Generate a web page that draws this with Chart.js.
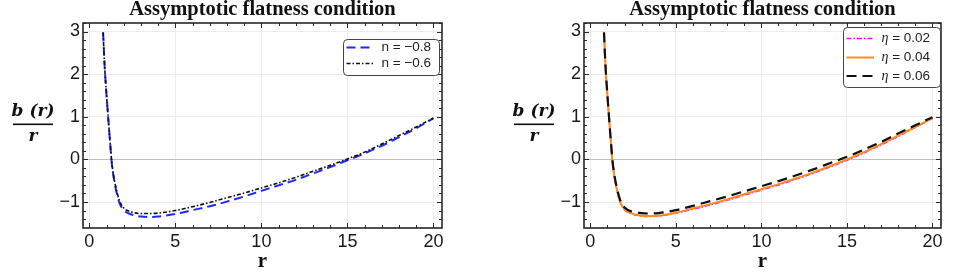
<!DOCTYPE html>
<html><head><meta charset="utf-8">
<script src="https://cdn.jsdelivr.net/npm/chart.js@4/dist/chart.umd.min.js"></script>
<style>
html,body{margin:0;padding:0;background:#fff;}
#wrap{position:relative;width:954px;height:273px;overflow:hidden;}
.panel{position:absolute;top:0;width:477px;height:273px;}
</style></head><body>
<div id="wrap">
<div class="panel" style="left:0"><canvas id="c1" width="477" height="273"></canvas></div>
<div class="panel" style="left:477px"><canvas id="c2" width="477" height="273"></canvas></div>
</div>
<script>
// ---- data ----
const chartTitle = 'Assymptotic flatness condition';
const xTicks = [0, 5, 10, 15, 20];
const yTicks = [-1, 0, 1, 2, 3];
const rValues = [0.8, 0.85, 0.9, 1.0, 1.1, 1.2, 1.3, 1.4, 1.5, 1.75, 2.0, 2.5, 3.0, 3.5, 4, 5, 6, 7, 8, 9, 10, 11, 12, 13, 14, 15, 16, 17, 18, 19, 20];
const nMinus08 = [2.98, 2.5, 2.1, 1.5, 0.95, 0.42, -0.08, -0.39, -0.62, -1.02, -1.19, -1.30, -1.34, -1.35, -1.34, -1.28, -1.19, -1.10, -0.99, -0.87, -0.74, -0.61, -0.48, -0.33, -0.18, -0.02, 0.14, 0.32, 0.52, 0.73, 0.96];
const nMinus06 = [2.98, 2.5, 2.1, 1.5, 0.95, 0.43, -0.06, -0.36, -0.58, -0.97, -1.14, -1.24, -1.27, -1.27, -1.26, -1.20, -1.11, -1.01, -0.90, -0.79, -0.67, -0.55, -0.42, -0.28, -0.14, 0.01, 0.17, 0.36, 0.56, 0.76, 0.97];
const eta002 = [2.98, 2.5, 2.1, 1.5, 0.95, 0.42, -0.08, -0.39, -0.62, -1.01, -1.18, -1.29, -1.33, -1.34, -1.33, -1.26, -1.17, -1.07, -0.96, -0.84, -0.72, -0.60, -0.47, -0.33, -0.18, -0.02, 0.15, 0.34, 0.54, 0.75, 0.96];
const eta004 = [2.98, 2.5, 2.1, 1.5, 0.95, 0.42, -0.07, -0.38, -0.61, -1.00, -1.17, -1.28, -1.32, -1.33, -1.32, -1.25, -1.15, -1.05, -0.94, -0.82, -0.70, -0.58, -0.45, -0.31, -0.16, 0.00, 0.17, 0.36, 0.56, 0.76, 0.97];
const eta006 = [2.98, 2.5, 2.1, 1.5, 0.95, 0.43, -0.05, -0.35, -0.57, -0.96, -1.13, -1.23, -1.26, -1.27, -1.26, -1.19, -1.09, -0.98, -0.87, -0.75, -0.63, -0.51, -0.38, -0.24, -0.09, 0.06, 0.23, 0.41, 0.61, 0.80, 0.99];

const toPts = ys => rValues.map((r, i) => ({x: r, y: ys[i]}));

// ---- plugins ----
const decor = {
  id: 'decor',
  afterDatasetsDraw(chart, args, o) {
    const ctx = chart.ctx, a = chart.chartArea, xs = chart.scales.x, ys = chart.scales.y;
    ctx.save();
    ctx.strokeStyle = '#2a2a2a'; ctx.lineWidth = 1;
    ctx.beginPath();
    for (let v = 0; v <= 20; v++) {
      const px = Math.round(xs.getPixelForValue(v)) + 0.5;
      const L = v % 5 === 0 ? 5 : 3;
      ctx.moveTo(px, a.bottom); ctx.lineTo(px, a.bottom - L);
      ctx.moveTo(px, a.top); ctx.lineTo(px, a.top + L);
    }
    for (let k = -8; k <= 16; k++) {
      const v = k * 0.2;
      const py = Math.round(ys.getPixelForValue(v)) + 0.5;
      if (py < a.top || py > a.bottom) continue;
      const L = k % 5 === 0 ? 5 : 3;
      ctx.moveTo(a.left, py); ctx.lineTo(a.left + L, py);
      ctx.moveTo(a.right, py); ctx.lineTo(a.right - L, py);
    }
    ctx.stroke();
    ctx.lineWidth = 1.6; ctx.strokeStyle = '#262626';
    ctx.strokeRect(a.left, a.top, a.right - a.left, a.bottom - a.top);
    ctx.restore();
  },
  afterDraw(chart, args, o) {
    const ctx = chart.ctx, a = chart.chartArea;
    ctx.save();
    ctx.fillStyle = '#111';
    ctx.textAlign = 'center'; ctx.textBaseline = 'middle';
    ctx.font = 'bold 20.5px "Liberation Serif"';
    ctx.fillText(chartTitle, (a.left + a.right) / 2, 9.5);
    ctx.font = 'bold 21px "Liberation Serif"';
    ctx.fillText('r', (a.left + a.right) / 2, 262);
    const cx = a.left - 50;
    ctx.font = 'bold italic 17px "DejaVu Serif"';
    ctx.fillText('b (r)', cx, 112);
    ctx.fillText('r', cx, 137);
    ctx.fillRect(cx - 20, 123.5, 40, 1.6);
    const L = o.legend;
    ctx.lineWidth = 1; ctx.strokeStyle = '#444'; ctx.fillStyle = '#fff';
    ctx.beginPath();
    ctx.roundRect(L.x + 0.5, L.y + 0.5, L.w, L.h, 4);
    ctx.fill(); ctx.stroke();
    ctx.textAlign = 'left';
    L.rows.forEach((ry, i) => {
      const ds = chart.data.datasets[L.order[i]];
      ctx.save();
      ctx.strokeStyle = ds.borderColor; ctx.lineWidth = ds.borderWidth;
      ctx.setLineDash(ds.borderDash || []);
      ctx.beginPath(); ctx.moveTo(L.x + 3.5, L.y + ry); ctx.lineTo(L.x + 31, L.y + ry); ctx.stroke();
      ctx.restore();
      ctx.fillStyle = '#222';
      const t = ds.label;
      let tx = L.x + 38.5;
      if (t.startsWith('η')) {
        ctx.font = 'italic 14px "Liberation Serif"';
        ctx.fillText('η', tx, L.y + ry);
        tx += ctx.measureText('η').width;
        ctx.font = '13.5px "Liberation Sans"';
        ctx.fillText(t.slice(1), tx, L.y + ry);
      } else {
        ctx.font = '13.5px "Liberation Sans"';
        ctx.fillText(t, tx, L.y + ry);
      }
    });
    ctx.restore();
  }
};

function makeScales() {
  return {
    x: {
      type: 'linear', min: -0.37, max: 20.5,
      afterFit: s => { s.height = 45; },
      afterBuildTicks: s => { s.ticks = xTicks.map(v => ({value: v})); },
      ticks: {font: {family: 'Liberation Sans', size: 18}, color: '#1a1a1a', padding: 3, maxRotation: 0, autoSkip: false,
              callback: v => String(v)},
      grid: {drawTicks: false, color: '#ececec', lineWidth: 1},
      border: {display: false}
    },
    y: {
      type: 'linear', min: -1.61, max: 3.2,
      afterFit: s => { s.width = 25; },
      afterBuildTicks: s => { s.ticks = yTicks.map(v => ({value: v})); },
      ticks: {font: {family: 'Liberation Sans', size: 18}, color: '#1a1a1a', padding: 3, autoSkip: false,
              callback: v => (v < 0 ? '\u2212' + Math.abs(v) : String(v))},
      grid: {drawTicks: false, lineWidth: 1, color: c => (c.tick && c.tick.value === 0 ? '#bdbdbd' : '#ececec')},
      border: {display: false}
    }
  };
}

function makeChart(id, datasets, padding, legend) {
  return new Chart(document.getElementById(id), {
    type: 'scatter',
    data: {datasets},
    options: {
      responsive: false, animation: false, devicePixelRatio: 1,
      layout: {padding},
      showLine: true,
      elements: {point: {radius: 0, hoverRadius: 0}, line: {cubicInterpolationMode: 'monotone', fill: false}},
      scales: makeScales(),
      plugins: {legend: {display: false}, tooltip: {enabled: false}, title: {display: false}, decor: {legend}}
    },
    plugins: [decor]
  });
}

makeChart('c1', [
  {label: 'n = \u22120.8', data: toPts(nMinus08), borderColor: 'rgb(30,40,255)', borderWidth: 2, borderDash: [9, 5], order: 1},
  {label: 'n = \u22120.6', data: toPts(nMinus06), borderColor: '#111', borderWidth: 1.6, borderDash: [4, 2, 1.5, 2], order: 0}
], {left: 58, right: 35, top: 23, bottom: 0},
  {x: 343, y: 39, w: 96, h: 36, rows: [8.5, 24.5], order: [0, 1]});

makeChart('c2', [
  {label: 'η = 0.02', data: toPts(eta002), borderColor: '#ff00ff', borderWidth: 1.5, borderDash: [5, 2, 1.5, 2], order: 2},
  {label: 'η = 0.04', data: toPts(eta004), borderColor: 'rgb(255,140,30)', borderWidth: 2, order: 1},
  {label: 'η = 0.06', data: toPts(eta006), borderColor: '#111', borderWidth: 2.2, borderDash: [10, 6], order: 0}
], {left: 82, right: 13, top: 23, bottom: 0},
  {x: 366, y: 27, w: 97, h: 60, rows: [11.5, 30.5, 49], order: [0, 1, 2]});
</script>
</body></html>
